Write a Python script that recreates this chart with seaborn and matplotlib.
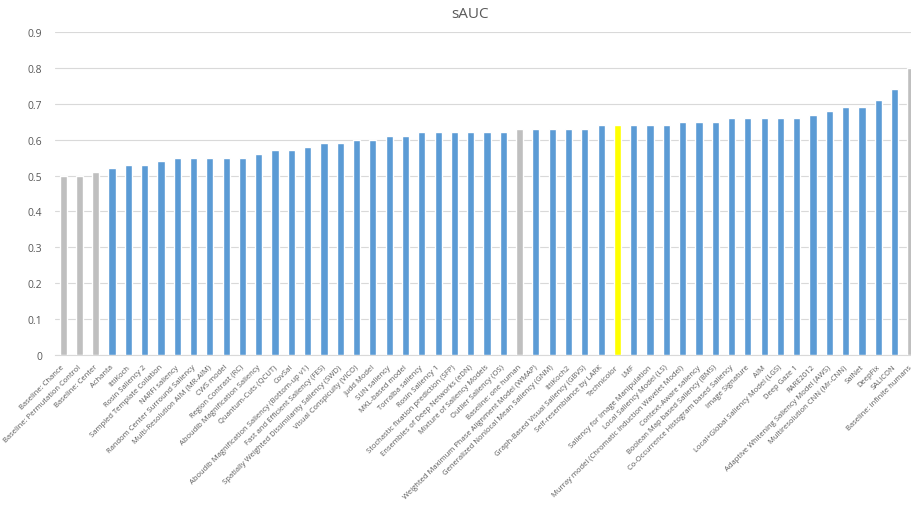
import matplotlib
matplotlib.use("Agg")
import matplotlib.pyplot as plt
import matplotlib.transforms as mtransforms
import pandas as pd
import seaborn as sns

models = [
    "Baseline: Chance", "Baseline: Permutation Control", "Baseline: Center",
    "Achanta", "IttiKoch", "Rosin Saliency 2", "Sampled Template Collation",
    "NARFI saliency", "Random Center Surround Saliency",
    "Multi-Resolution AIM (MR-AIM)", "CWS model", "Region Contrast (RC)",
    "Aboudib Magnification Saliency", "Quantum-Cuts (QCUT)", "CovSal",
    "Aboudib Magnification Saliency (Bottom-up v1)",
    "Fast and Efficient Saliency (FES)",
    "Spatially Weighted Dissimilarity Saliency (SWD)",
    "Visual Conspicuity (VICO)", "Judd Model", "SUN saliency",
    "MKL-based model", "Torralba saliency", "Rosin Saliency 1",
    "Stochastic fixation prediction (SFP)",
    "Ensembles of Deep Networks (eDN)", "Mixture of Saliency Models",
    "Outlier Saliency (OS)", "Baseline: one human",
    "Weighted Maximum Phase Alignment Model (WMAP)",
    "Generalized Nonlocal Mean Saliency (GNM)", "IttiKoch2",
    "Graph-Based Visual Saliency (GBVS)", "Self-resemblance by LARK",
    "Technicolor", "LMF", "Saliency for Image Manipulation",
    "Local Saliency Model (LS)",
    "Murray model (Chromatic Induction Wavelet Model)",
    "Context-Aware saliency", "Boolean Map based Saliency (BMS)",
    "Co-Occurrence Histogram based Saliency", "Image Signature", "AIM",
    "Local+Global Saliency Model (LGS)", "Deep Gaze 1", "RARE2012",
    "Adaptive Whitening Saliency Model (AWS)", "Multiresolution CNN (Mr-CNN)",
    "SalNet", "DeepFix", "SALICON", "Baseline: infinite humans",
]
sauc = [
    0.50, 0.50, 0.51,
    0.52, 0.53, 0.53, 0.54,
    0.55, 0.55, 0.55, 0.55, 0.55,
    0.56, 0.57, 0.57, 0.58, 0.59, 0.59,
    0.60, 0.60, 0.61, 0.61, 0.62, 0.62,
    0.62, 0.62, 0.62, 0.62, 0.63,
    0.63, 0.63, 0.63, 0.63, 0.64,
    0.64, 0.64, 0.64, 0.64,
    0.65, 0.65, 0.65,
    0.66, 0.66, 0.66, 0.66, 0.66, 0.67,
    0.68, 0.69, 0.69, 0.71, 0.74, 0.80,
]
# kind of entry: baseline / model / highlighted
kind = ["baseline"] * 3 + ["model"] * 25 + ["baseline"] + ["model"] * 5 + \
       ["highlight"] + ["model"] * 17 + ["baseline"]

colors = {"model": "#5B9BD5", "baseline": "#BFBFBF", "highlight": "#FFFF00"}

df = pd.DataFrame({"model": models, "sAUC": sauc, "kind": kind})

sns.set_style("white")
plt.rcParams["font.family"] = ["Open Sans", "DejaVu Sans"]

fig = plt.figure(figsize=(9.12, 5.06), dpi=100)
ax = fig.add_axes([55 / 912, 1 - 356 / 506, 864 / 912, (356 - 33) / 506])

sns.barplot(data=df, x="model", y="sAUC", hue="kind", palette=colors,
            dodge=False, width=0.44, saturation=1, legend=False, ax=ax,
            zorder=3)

ax.set_xlim(-0.5, 52.5)
ax.set_ylim(0, 0.9)
ax.set_yticks([i / 10 for i in range(10)])
ax.set_yticklabels(["0"] + ["%.1f" % (i / 10) for i in range(1, 10)])
ax.yaxis.grid(True, color="#D9D9D9", linewidth=0.8, zorder=0)
ax.set_axisbelow(True)
for s in ["top", "right", "left"]:
    ax.spines[s].set_visible(False)
ax.spines["bottom"].set_color("#D9D9D9")
ax.tick_params(axis="both", length=0, colors="#595959")
ax.tick_params(axis="y", labelsize=7.5, pad=9)
ax.tick_params(axis="x", pad=6)
shift = mtransforms.ScaledTranslation(-2 / 100, 0, fig.dpi_scale_trans)
for lbl in ax.get_xticklabels():
    lbl.set_rotation(45)
    lbl.set_ha("right")
    lbl.set_rotation_mode("anchor")
    lbl.set_fontsize(5.5)
    lbl.set_transform(lbl.get_transform() + shift)
ax.set_xlabel("")
ax.set_ylabel("")
fig.text(470 / 912, 1 - 14 / 506, "sAUC", color="#595959", fontsize=11,
         ha="center", va="center")

fig.savefig("out.png", dpi=100)
